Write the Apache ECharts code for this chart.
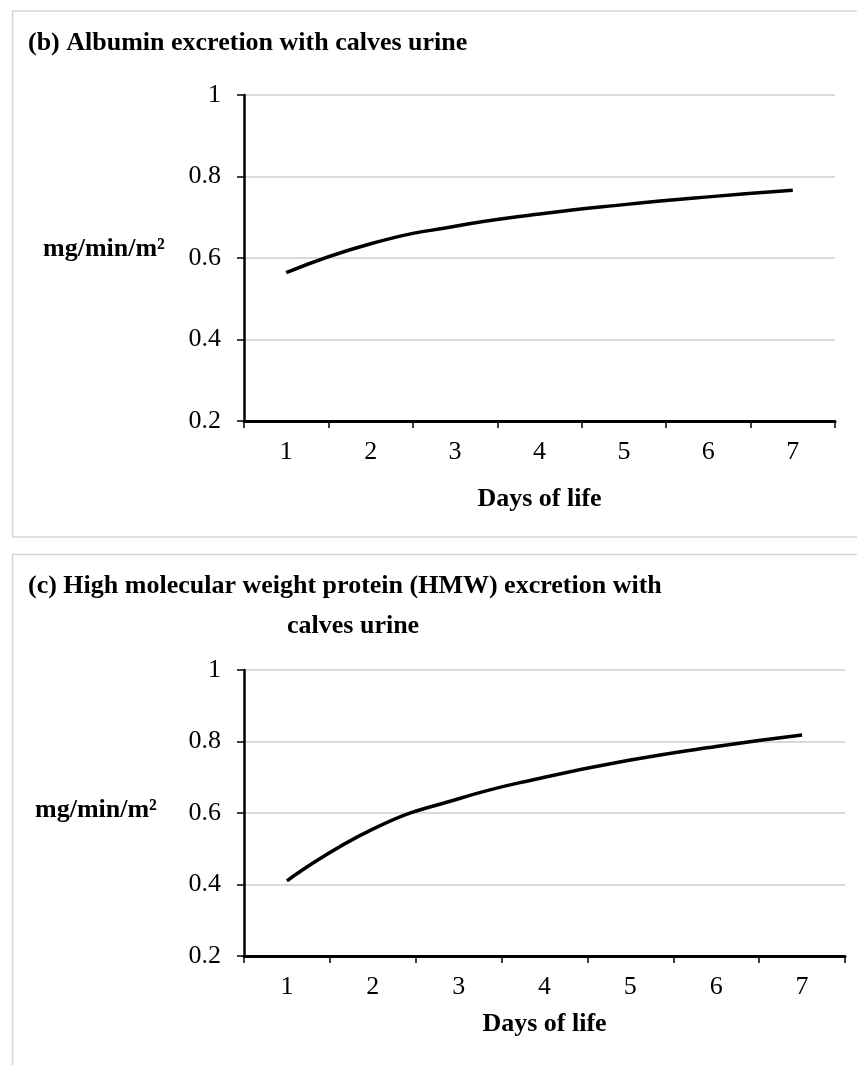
<!DOCTYPE html>
<html>
<head>
<meta charset="utf-8">
<script src="https://cdn.jsdelivr.net/npm/echarts@6/dist/echarts.min.js"></script>
<style>
  html, body { margin: 0; padding: 0; background: #fff; }
  #chart { width: 857px; height: 1065px; }
</style>
</head>
<body>
<div id="chart"></div>
<script>
// data
const days = ['1', '2', '3', '4', '5', '6', '7'];
const albumin = [0.564, 0.635, 0.678, 0.708, 0.731, 0.750, 0.766];
const hmw = [0.410, 0.555, 0.640, 0.700, 0.748, 0.786, 0.818];
const yMin = 0.2;
const yMax = 1;
const yStep = 0.2;

const FONT = '"Liberation Serif", "Times New Roman", serif';
const gridColor = '#d9d9d9';
const titleStyle = { fontFamily: FONT, fontSize: 26, fontWeight: 'bold', color: '#000', lineHeight: 40 };

const xAxisFor = (gridIndex, nameGap) => ({
  type: 'category',
  gridIndex: gridIndex,
  data: days,
  boundaryGap: true,
  name: 'Days of life',
  nameLocation: 'middle',
  nameGap: nameGap,
  nameTextStyle: { fontFamily: FONT, fontSize: 26, fontWeight: 'bold', color: '#000' },
  axisLine: { lineStyle: { color: '#000', width: 3 } },
  axisTick: { show: true, length: 7, lineStyle: { color: '#000', width: 1.5 } },
  axisLabel: { margin: 18, fontFamily: FONT, fontSize: 26, color: '#000' },
  splitLine: { show: false }
});

const yAxisFor = (gridIndex) => ({
  type: 'value',
  gridIndex: gridIndex,
  min: yMin,
  max: yMax,
  interval: yStep,
  axisLine: { show: true, lineStyle: { color: '#000', width: 2.5 } },
  axisTick: { show: true, length: 7, lineStyle: { color: '#000', width: 1.5 } },
  axisLabel: { margin: 23, fontFamily: FONT, fontSize: 26, color: '#000' },
  splitLine: { show: true, lineStyle: { color: gridColor, width: 2 } }
});

const lineSeries = (idx, data) => ({
  type: 'line',
  xAxisIndex: idx,
  yAxisIndex: idx,
  data: data,
  smooth: true,
  symbol: 'none',
  lineStyle: { color: '#000', width: 3.5 }
});

const chart = echarts.init(document.getElementById('chart'));
const option = {
  animation: false,
  title: [
    { text: '(b) Albumin excretion with calves urine', left: 28, top: 23, padding: 0, textStyle: titleStyle },
    { text: '(c) High molecular weight protein (HMW) excretion with', left: 28, top: 566, padding: 0, textStyle: titleStyle },
    { text: 'calves urine', left: 287, top: 606, padding: 0, textStyle: titleStyle }
  ],
  grid: [
    { left: 244, right: 22, top: 95, bottom: 644 },
    { left: 244, right: 12, top: 670, bottom: 109 }
  ],
  xAxis: [xAxisFor(0, 65), xAxisFor(1, 55)],
  yAxis: [yAxisFor(0), yAxisFor(1)],
  series: [lineSeries(0, albumin), lineSeries(1, hmw)],
  graphic: [
    // panel frames
    {
      type: 'rect', silent: true, z: -1,
      shape: { x: 12.5, y: 11, width: 900, height: 526 },
      style: { fill: 'none', stroke: '#d6d6d6', lineWidth: 1.5 }
    },
    {
      type: 'rect', silent: true, z: -1,
      shape: { x: 12.5, y: 554.5, width: 900, height: 600 },
      style: { fill: 'none', stroke: '#d6d6d6', lineWidth: 1.5 }
    },
    // y axis titles
    {
      type: 'text', left: 43, top: 236,
      style: { text: 'mg/min/m²', font: 'bold 26px ' + FONT, fill: '#000' }
    },
    {
      type: 'text', left: 35, top: 797,
      style: { text: 'mg/min/m²', font: 'bold 26px ' + FONT, fill: '#000' }
    }
  ]
};
chart.setOption(option);
</script>
</body>
</html>
